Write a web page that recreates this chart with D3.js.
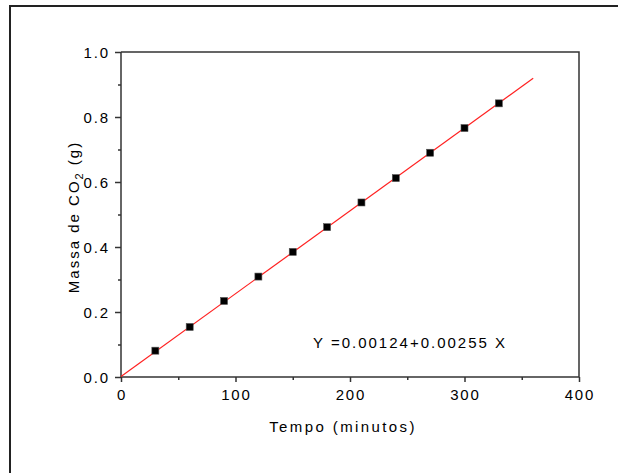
<!DOCTYPE html>
<html>
<head>
<meta charset="utf-8">
<script src="https://cdn.jsdelivr.net/npm/d3@7"></script>
<style>
  body { margin: 0; background: #fff; }
  svg text { font-family: Arial, "Liberation Sans", sans-serif; fill: #000; }
</style>
</head>
<body>
<svg></svg>
<script>
const width = 618, height = 473;
const svg = d3.select("svg").attr("width", width).attr("height", height);

// data
const tempo = [30, 60, 90, 120, 150, 180, 210, 240, 270, 300, 330];
const massa = [0.081, 0.154, 0.234, 0.309, 0.385, 0.461, 0.537, 0.612, 0.690, 0.766, 0.842];
const fitA = 0.00124, fitB = 0.00255;
const fitRange = [0, 360];
const xTicks = [0, 100, 200, 300, 400];
const yTicks = [0, 0.2, 0.4, 0.6, 0.8, 1.0];

const plotL = 121, plotR = 579, plotT = 52, plotB = 377;

const x = d3.scaleLinear().domain([0, 400]).range([plotL, plotR]);
const y = d3.scaleLinear().domain([0, 1]).range([plotB, plotT]);

// outer frame (runs off the window on the right and bottom)
svg.append("rect")
    .attr("x", 10).attr("y", 6)
    .attr("width", 640).attr("height", 500)
    .attr("fill", "none").attr("stroke", "#222").attr("stroke-width", 2);

const axisColor = "#333";

// box top + right
svg.append("path")
    .attr("d", `M${plotL},${plotT}H${plotR}V${plotB}`)
    .attr("fill", "none").attr("stroke", axisColor).attr("stroke-width", 1.5);

// x axis
const xAxis = svg.append("g").attr("transform", `translate(0,${plotB})`);
xAxis.call(d3.axisBottom(x).tickValues(d3.range(0, 401, 50)).tickSize(5).tickFormat(""));
xAxis.selectAll(".tick line").attr("stroke", axisColor).attr("stroke-width", 1.5)
    .attr("y2", d => d % 100 === 0 ? 5 : 3);
xAxis.select(".domain").attr("stroke", axisColor).attr("stroke-width", 1.5).attr("d", `M${plotL},0H${plotR}`);
xAxis.selectAll(".lbl").data(xTicks).enter().append("text")
    .attr("x", d => x(d) + 1).attr("y", 23)
    .attr("text-anchor", "middle")
    .attr("font-size", 15).attr("letter-spacing", 1.9)
    .text(d => d);

// y axis
const yAxis = svg.append("g").attr("transform", `translate(${plotL},0)`);
yAxis.call(d3.axisLeft(y).tickValues(d3.range(0, 11).map(i => i / 10)).tickSize(6).tickFormat(""));
yAxis.selectAll(".tick line").attr("stroke", axisColor).attr("stroke-width", 1.5)
    .attr("x2", (d, i) => i % 2 === 0 ? -6 : -3);
yAxis.select(".domain").attr("stroke", axisColor).attr("stroke-width", 1.5).attr("d", `M0,${plotT}V${plotB}`);
yAxis.selectAll(".lbl").data(yTicks).enter().append("text")
    .attr("x", -11).attr("y", d => y(d) + 5.5)
    .attr("text-anchor", "end")
    .attr("font-size", 15).attr("letter-spacing", 1.9)
    .text(d => d.toFixed(1));

// axis titles
svg.append("text")
    .attr("x", 343).attr("y", 432)
    .attr("text-anchor", "middle")
    .attr("font-size", 15).attr("letter-spacing", 2.4)
    .text("Tempo (minutos)");

const yt = svg.append("text")
    .attr("transform", `translate(79,217) rotate(-90)`)
    .attr("text-anchor", "middle")
    .attr("font-size", 15).attr("letter-spacing", 2.0);
yt.append("tspan").text("Massa de CO");
yt.append("tspan").attr("dy", 4).attr("font-size", 11).text("2");
yt.append("tspan").attr("dy", -4).text(" (g)");

// fit line
svg.append("line")
    .attr("x1", x(fitRange[0])).attr("y1", y(fitA + fitB * fitRange[0]))
    .attr("x2", x(fitRange[1])).attr("y2", y(fitA + fitB * fitRange[1]))
    .attr("stroke", "#ff2020").attr("stroke-width", 1.2);

// points
svg.selectAll("rect.pt")
    .data(tempo.map((t, i) => ({ t, m: massa[i] })))
    .enter().append("rect")
    .attr("class", "pt")
    .attr("x", d => x(d.t) - 3.5).attr("y", d => y(d.m) - 3.5)
    .attr("width", 7).attr("height", 7)
    .attr("fill", "#000").attr("stroke", "#555").attr("stroke-width", 0.6);

// equation
svg.append("text")
    .attr("x", 313).attr("y", 348)
    .attr("font-size", 15).attr("letter-spacing", 2.0)
    .text(`Y =${fitA}+${fitB} X`);
</script>
</body>
</html>
